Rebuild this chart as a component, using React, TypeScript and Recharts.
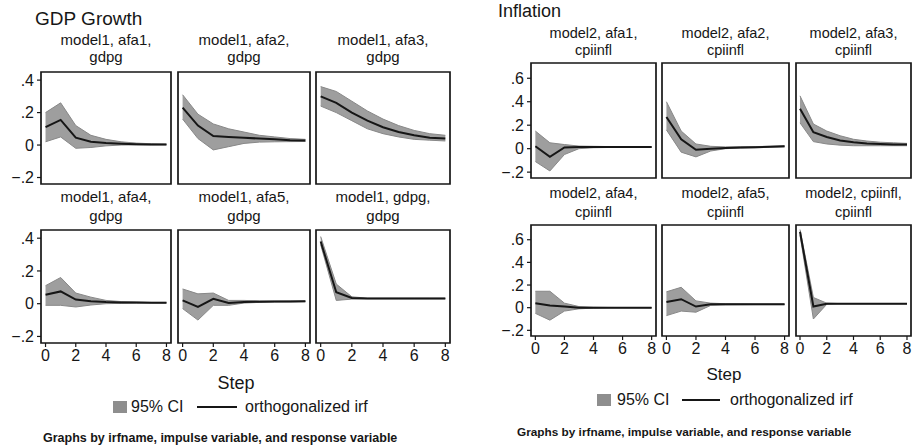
import React from "react";
import { ComposedChart, Area, Line, XAxis, YAxis, ReferenceArea } from "recharts";

const steps = [0, 1, 2, 3, 4, 5, 6, 7, 8];
const stepTicks = [0, 2, 4, 6, 8];
const gdpTicks = [-0.2, 0, 0.2, 0.4];
const inflTicks = [-0.2, 0, 0.2, 0.4, 0.6];

// GDP growth responses (model1)
const gdpTitles = [
  ["model1, afa1,", "gdpg"],
  ["model1, afa2,", "gdpg"],
  ["model1, afa3,", "gdpg"],
  ["model1, afa4,", "gdpg"],
  ["model1, afa5,", "gdpg"],
  ["model1, gdpg,", "gdpg"],
];
const gdpAfa1Irf = [0.11, 0.155, 0.045, 0.02, 0.012, 0.008, 0.005, 0.004, 0.003];
const gdpAfa1Lo = [0.02, 0.05, -0.02, -0.015, -0.005, 0, 0.001, 0.001, 0.001];
const gdpAfa1Hi = [0.2, 0.26, 0.12, 0.06, 0.035, 0.02, 0.012, 0.008, 0.006];
const gdpAfa2Irf = [0.23, 0.12, 0.055, 0.05, 0.045, 0.04, 0.035, 0.03, 0.028];
const gdpAfa2Lo = [0.16, 0.04, -0.03, -0.01, 0.01, 0.018, 0.02, 0.021, 0.022];
const gdpAfa2Hi = [0.31, 0.19, 0.13, 0.1, 0.08, 0.06, 0.05, 0.04, 0.035];
const gdpAfa3Irf = [0.3, 0.26, 0.2, 0.15, 0.11, 0.08, 0.06, 0.045, 0.04];
const gdpAfa3Lo = [0.24, 0.2, 0.15, 0.1, 0.07, 0.05, 0.035, 0.03, 0.025];
const gdpAfa3Hi = [0.36, 0.33, 0.27, 0.21, 0.16, 0.12, 0.09, 0.07, 0.06];
const gdpAfa4Irf = [0.055, 0.075, 0.025, 0.015, 0.01, 0.008, 0.007, 0.006, 0.006];
const gdpAfa4Lo = [-0.01, -0.01, -0.02, -0.008, 0, 0.002, 0.003, 0.004, 0.004];
const gdpAfa4Hi = [0.11, 0.16, 0.065, 0.04, 0.02, 0.013, 0.01, 0.008, 0.008];
const gdpAfa5Irf = [0.02, -0.02, 0.03, 0.005, 0.01, 0.012, 0.013, 0.014, 0.015];
const gdpAfa5Lo = [-0.03, -0.1, -0.01, -0.01, 0.004, 0.008, 0.01, 0.011, 0.012];
const gdpAfa5Hi = [0.09, 0.06, 0.065, 0.02, 0.02, 0.017, 0.016, 0.017, 0.017];
const gdpOwnIrf = [0.38, 0.07, 0.035, 0.032, 0.032, 0.032, 0.032, 0.032, 0.032];
const gdpOwnLo = [0.36, 0.02, 0.028, 0.03, 0.03, 0.03, 0.03, 0.03, 0.03];
const gdpOwnHi = [0.41, 0.12, 0.042, 0.034, 0.034, 0.034, 0.034, 0.034, 0.034];

// Inflation responses (model2)
const inflTitles = [
  ["model2, afa1,", "cpiinfl"],
  ["model2, afa2,", "cpiinfl"],
  ["model2, afa3,", "cpiinfl"],
  ["model2, afa4,", "cpiinfl"],
  ["model2, afa5,", "cpiinfl"],
  ["model2, cpiinfl,", "cpiinfl"],
];
const inflAfa1Irf = [0.02, -0.07, 0.01, 0.015, 0.015, 0.015, 0.015, 0.015, 0.015];
const inflAfa1Lo = [-0.11, -0.19, -0.05, 0, 0.008, 0.01, 0.01, 0.01, 0.01];
const inflAfa1Hi = [0.15, 0.05, 0.035, 0.022, 0.02, 0.018, 0.018, 0.018, 0.018];
const inflAfa2Irf = [0.27, 0.08, -0.01, 0, 0.005, 0.01, 0.013, 0.016, 0.02];
const inflAfa2Lo = [0.16, -0.03, -0.07, -0.02, 0, 0.005, 0.008, 0.012, 0.015];
const inflAfa2Hi = [0.4, 0.15, 0.04, 0.02, 0.015, 0.016, 0.018, 0.02, 0.024];
const inflAfa3Irf = [0.34, 0.14, 0.1, 0.07, 0.055, 0.045, 0.04, 0.035, 0.035];
const inflAfa3Lo = [0.22, 0.06, 0.04, 0.03, 0.025, 0.025, 0.025, 0.025, 0.025];
const inflAfa3Hi = [0.45, 0.21, 0.15, 0.11, 0.08, 0.065, 0.055, 0.05, 0.045];
const inflAfa4Irf = [0.04, 0.02, 0.01, 0, 0, 0, 0, 0, 0];
const inflAfa4Lo = [-0.05, -0.11, -0.03, -0.01, -0.004, -0.002, -0.001, -0.001, -0.001];
const inflAfa4Hi = [0.145, 0.145, 0.04, 0.01, 0.004, 0.002, 0.001, 0.001, 0.001];
const inflAfa5Irf = [0.05, 0.075, 0.01, 0.03, 0.03, 0.03, 0.03, 0.03, 0.03];
const inflAfa5Lo = [-0.07, -0.03, -0.04, 0.02, 0.025, 0.026, 0.027, 0.027, 0.027];
const inflAfa5Hi = [0.14, 0.18, 0.06, 0.04, 0.035, 0.034, 0.033, 0.033, 0.033];
const inflOwnIrf = [0.67, 0.01, 0.035, 0.035, 0.035, 0.035, 0.035, 0.035, 0.035];
const inflOwnLo = [0.64, -0.1, 0.03, 0.034, 0.034, 0.034, 0.034, 0.034, 0.034];
const inflOwnHi = [0.69, 0.09, 0.04, 0.036, 0.036, 0.036, 0.036, 0.036, 0.036];

const FONT = "'Liberation Sans', Arial, Helvetica, sans-serif";
const INK = "#161616";
const BAND = "#9e9e9e";
const X_DOMAIN = [-0.3, 8.3];
const M = 2;

const rows = (irf: number[], lo: number[], hi: number[]) =>
  steps.map((s, i) => ({ step: s, irf: irf[i], ci: [lo[i], hi[i]] }));

const gdpSeries = [
  rows(gdpAfa1Irf, gdpAfa1Lo, gdpAfa1Hi),
  rows(gdpAfa2Irf, gdpAfa2Lo, gdpAfa2Hi),
  rows(gdpAfa3Irf, gdpAfa3Lo, gdpAfa3Hi),
  rows(gdpAfa4Irf, gdpAfa4Lo, gdpAfa4Hi),
  rows(gdpAfa5Irf, gdpAfa5Lo, gdpAfa5Hi),
  rows(gdpOwnIrf, gdpOwnLo, gdpOwnHi),
];
const inflSeries = [
  rows(inflAfa1Irf, inflAfa1Lo, inflAfa1Hi),
  rows(inflAfa2Irf, inflAfa2Lo, inflAfa2Hi),
  rows(inflAfa3Irf, inflAfa3Lo, inflAfa3Hi),
  rows(inflAfa4Irf, inflAfa4Lo, inflAfa4Hi),
  rows(inflAfa5Irf, inflAfa5Lo, inflAfa5Hi),
  rows(inflOwnIrf, inflOwnLo, inflOwnHi),
];

const fmtY = (v: number) => {
  if (Math.abs(v) < 1e-9) return "0";
  const s = String(Math.abs(Math.round(v * 10) / 10)).replace(/^0/, "");
  return (v < 0 ? "\u2212" : "") + s;
};

type Layout = {
  cols: number[][];
  rows: number[][];
  yDomain: number[];
  yTicks: number[];
  yAxisW: number;
  titleY: number[][];
  titleSize: number;
};

const gdpLayout: Layout = {
  cols: [[41, 171], [178, 310], [316, 450]],
  rows: [[72, 184], [230, 343]],
  yDomain: [-0.24, 0.45],
  yTicks: gdpTicks,
  yAxisW: 32,
  titleY: [[40, 57], [197, 216]],
  titleSize: 15,
};

const inflLayout: Layout = {
  cols: [[531, 656], [662, 789], [796, 911]],
  rows: [[63, 178], [225, 336]],
  yDomain: [-0.25, 0.73],
  yTicks: inflTicks,
  yAxisW: 32,
  titleY: [[33, 50], [193, 212]],
  titleSize: 14.5,
};

const tickStyle = { fontSize: 16, fill: INK, fontFamily: FONT };

function Small({ data, layout, r, c }: { data: any[]; layout: Layout; r: number; c: number }) {
  const [x0, x1] = layout.cols[c];
  const [y0, y1] = layout.rows[r];
  const showY = c === 0;
  const showX = r === 1;
  const yW = showY ? layout.yAxisW : 0;
  const xH = showX ? 28 : 0;
  const w = x1 - x0 + yW + 2 * M;
  const h = y1 - y0 + xH + 2 * M;
  return (
    <div style={{ position: "absolute", left: x0 - yW - M, top: y0 - M }}>
      <ComposedChart width={w} height={h} data={data} margin={{ top: M, right: M, bottom: M, left: M }}>
        <XAxis
          type="number"
          dataKey="step"
          domain={X_DOMAIN}
          ticks={stepTicks}
          interval={0}
          allowDataOverflow
          hide={!showX}
          height={xH}
          axisLine={false}
          tickLine={{ stroke: INK, strokeWidth: 1.2 }}
          tickSize={4}
          tickMargin={3}
          tick={tickStyle}
        />
        <YAxis
          type="number"
          domain={layout.yDomain}
          ticks={layout.yTicks}
          interval={0}
          allowDataOverflow
          hide={!showY}
          width={yW}
          axisLine={false}
          tickLine={{ stroke: INK, strokeWidth: 1.2 }}
          tickSize={4}
          tickMargin={3}
          tickFormatter={fmtY}
          tick={tickStyle}
        />
        <Area
          type="linear"
          dataKey="ci"
          fill={BAND}
          fillOpacity={1}
          stroke="#888"
          strokeWidth={1}
          dot={false}
          activeDot={false}
          isAnimationActive={false}
        />
        <Line
          type="linear"
          dataKey="irf"
          stroke={INK}
          strokeWidth={2}
          dot={false}
          activeDot={false}
          isAnimationActive={false}
        />
        <ReferenceArea
          x1={X_DOMAIN[0]}
          x2={X_DOMAIN[1]}
          y1={layout.yDomain[0]}
          y2={layout.yDomain[1]}
          fill="none"
          fillOpacity={0}
          stroke={INK}
          strokeWidth={1.7}
          ifOverflow="visible"
        />
      </ComposedChart>
    </div>
  );
}

function Label({ x, y, size, children, align = "center", weight = 400 }: any) {
  const tx = align === "center" ? "-50%" : "0";
  return (
    <div
      style={{
        position: "absolute",
        left: x,
        top: y,
        transform: `translate(${tx}, -50%)`,
        fontSize: size,
        fontWeight: weight,
        fontFamily: FONT,
        color: INK,
        whiteSpace: "nowrap",
        lineHeight: 1.15,
      }}
    >
      {children}
    </div>
  );
}

function Block({ series, titles, layout }: { series: any[][]; titles: string[][]; layout: Layout }) {
  return (
    <>
      {series.map((d, i) => {
        const r = Math.floor(i / 3);
        const c = i % 3;
        const cx = (layout.cols[c][0] + layout.cols[c][1]) / 2;
        return (
          <React.Fragment key={i}>
            <Label x={cx} y={layout.titleY[r][0]} size={layout.titleSize}>{titles[i][0]}</Label>
            <Label x={cx} y={layout.titleY[r][1]} size={layout.titleSize}>{titles[i][1]}</Label>
            <Small data={d} layout={layout} r={r} c={c} />
          </React.Fragment>
        );
      })}
    </>
  );
}

function LegendRow({ x, y, lineX0, lineX1, textX, labelX }: any) {
  return (
    <>
      <div style={{ position: "absolute", left: x, top: y - 6, width: 14, height: 12, background: "#8e8e8e" }} />
      <Label x={labelX} y={y} size={16} align="left">95% CI</Label>
      <div style={{ position: "absolute", left: lineX0, top: y - 1, width: lineX1 - lineX0, height: 1.6, background: INK }} />
      <Label x={textX} y={y} size={16} align="left">orthogonalized irf</Label>
    </>
  );
}

export default function App() {
  return (
    <div style={{ position: "absolute", left: 0, top: 0, width: 915, height: 446, background: "#fff", overflow: "hidden" }}>
      <Label x={35} y={19} size={19} align="left">GDP Growth</Label>
      <Block series={gdpSeries} titles={gdpTitles} layout={gdpLayout} />
      <Label x={236} y={383} size={18}>Step</Label>
      <LegendRow x={113} y={407} labelX={131} lineX0={197} lineX1={237} textX={245} />
      <Label x={43} y={438} size={12.5} align="left" weight={700}>
        Graphs by irfname, impulse variable, and response variable
      </Label>

      <Label x={498} y={11} size={18} align="left">Inflation</Label>
      <Block series={inflSeries} titles={inflTitles} layout={inflLayout} />
      <Label x={724} y={375} size={17}>Step</Label>
      <LegendRow x={597} y={400} labelX={617} lineX0={682} lineX1={720} textX={730} />
      <Label x={517} y={433} size={11.8} align="left" weight={700}>
        Graphs by irfname, impulse variable, and response variable
      </Label>
    </div>
  );
}
